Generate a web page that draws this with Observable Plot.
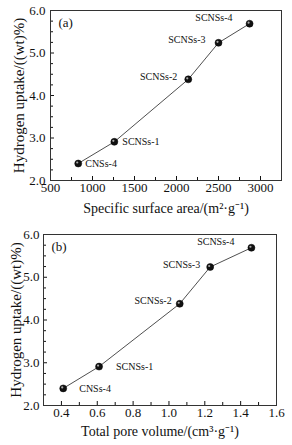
<!DOCTYPE html>
<html><head><meta charset="utf-8">
<script src="https://cdn.jsdelivr.net/npm/d3@7"></script>
<script src="https://cdn.jsdelivr.net/npm/@observablehq/plot@0.6"></script>
<style>
body{margin:0;background:#fff;}
#chart svg{display:block;}
</style></head><body><div id="chart"></div>
<script>
const samples = ["CNSs-4", "SCNSs-1", "SCNSs-2", "SCNSs-3", "SCNSs-4"];
const surfaceArea = [830, 1260, 2140, 2500, 2870];
const poreVolume = [0.41, 0.61, 1.06, 1.23, 1.46];
const hydrogenUptake = [2.40, 2.91, 4.38, 5.24, 5.69];
const xTicksA = [500, 1000, 1500, 2000, 2500, 3000];
const xMinorA = [750, 1250, 1750, 2250, 2750, 3250];
const xTicksB = [0.4, 0.6, 0.8, 1.0, 1.2, 1.4, 1.6];
const xMinorB = [0.3, 0.5, 0.7, 0.9, 1.1, 1.3, 1.5];
const yTicks = [2, 3, 4, 5, 6];
const yMinor = [2.25, 2.5, 2.75, 3.25, 3.5, 3.75, 4.25, 4.5, 4.75, 5.25, 5.5, 5.75];

const FONT = "'Liberation Serif', 'Times New Roman', serif";

function panel(cfg) {
  const data = samples.map((s, i) => ({name: s, x: cfg.xs[i], y: hydrogenUptake[i], i}));
  const labelMarks = cfg.offsets.map((o, i) =>
    Plot.text(data.filter(d => d.i === i), {x: "x", y: "y", text: "name", dx: o[0], dy: o[1],
      textAnchor: o[2], fontSize: 10, fill: "#111"}));
  return Plot.plot({
    width: 292, height: cfg.height,
    marginTop: cfg.mt, marginBottom: cfg.mb, marginLeft: cfg.ml, marginRight: cfg.mr,
    style: {fontFamily: FONT, background: "#fff", color: "#111"},
    x: {domain: cfg.xdomain},
    y: {domain: [2, 6]},
    marks: [
      Plot.axisX({ticks: cfg.xticks, tickSize: 0, tickPadding: cfg.xpad, fontSize: 13, label: null, tickFormat: cfg.xfmt}),
      Plot.axisX({ticks: cfg.xticks, tickSize: 4, dy: -4, fill: "none", label: null}),
      Plot.axisX({ticks: cfg.xminor, tickSize: 3, dy: -3, fill: "none", label: null}),
      Plot.axisY({ticks: yTicks, tickSize: 0, tickPadding: cfg.ypad, fontSize: 13, label: null, tickFormat: d3.format(".1f")}),
      Plot.axisY({ticks: yTicks, tickSize: 4, dx: 4, fill: "none", label: null}),
      Plot.axisY({ticks: yMinor, tickSize: 3, dx: 3, fill: "none", label: null}),
      Plot.frame({stroke: "#333", strokeWidth: 1}),
      Plot.line(data, {x: "x", y: "y", curve: "linear", stroke: "#222", strokeWidth: 0.8}),
      Plot.dot(data, {x: "x", y: "y", r: 3.5, fill: "#111", stroke: "#000", strokeWidth: 0.5}),
      Plot.dot(data, {x: "x", y: "y", r: 1.1, fill: "#aaa", dx: -1, dy: -1}),
      ...labelMarks,
      Plot.text([cfg.tag], {frameAnchor: "top-left", dx: 8, dy: 7, fontSize: 13, fill: "#111"}),
      Plot.text([cfg.xlabel], {frameAnchor: "bottom", dy: cfg.xlabDy, lineAnchor: "middle", fontSize: 14, fill: "#111"}),
      Plot.text(["Hydrogen uptake/((wt)%)"], {frameAnchor: "left", textAnchor: "middle", lineAnchor: "middle", dx: cfg.ylabDx, rotate: -90, fontSize: 15, fill: "#111"})
    ]
  });
}

const el = document.getElementById("chart");
el.append(panel({
  xs: surfaceArea, height: 220, mt: 10, mb: 40, ml: 50, mr: 11,
  xdomain: [500, 3250], xticks: xTicksA, xminor: xMinorA, xpad: 2, ypad: 5,
  xfmt: d3.format("d"),
  offsets: [[7, 0, "start"], [8, 0, "start"], [-11, -3, "end"], [-13, -3, "end"], [-17, -6, "end"]],
  tag: "(a)", xlabel: "Specific surface area/(m²·g⁻¹)", xlabDy: 28, ylabDx: -31
}));
el.append(panel({
  xs: poreVolume, height: 225, mt: 14, mb: 40, ml: 43, mr: 16,
  xdomain: [0.3, 1.6], xticks: xTicksB, xminor: xMinorB, xpad: 2, ypad: 4,
  xfmt: d3.format(".1f"),
  offsets: [[16, 0, "start"], [17, 0, "start"], [-8, -3, "end"], [-10, -2, "end"], [-17, -6, "end"]],
  tag: "(b)", xlabel: "Total pore volume/(cm³·g⁻¹)", xlabDy: 26, ylabDx: -27
}));
</script></body></html>
